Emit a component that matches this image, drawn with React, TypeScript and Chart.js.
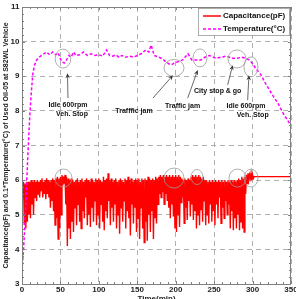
import React, { useEffect, useRef } from "react";
import { Chart, registerables } from "chart.js";

Chart.register(...registerables);

// Capacitance (pF) sampled every minute from t = 0 to t = 304
const capacitance = [
  5.9, 5.5, 5.95, 4.7, 5.9, 4.6, 5.95, 4.8, 5.95, 5.0,
  5.95, 4.9, 6.0, 5.3, 5.95, 5.0, 6.0, 5.5, 5.95, 5.4,
  6.0, 5.6, 5.95, 5.5, 6.0, 5.7, 6.05, 5.5, 5.95, 5.6,
  6.0, 5.45, 6.05, 5.6, 6.0, 5.5, 5.95, 5.2, 6.0, 5.4,
  6.05, 5.1, 6.0, 4.7, 6.05, 4.9, 6.1, 4.3, 6.05, 4.6,
  6.1, 5.0, 6.15, 5.85, 6.1, 5.9, 6.15, 5.3, 6.1, 4.1,
  6.05, 4.6, 6.0, 4.3, 6.05, 4.8, 6.0, 4.5, 5.95, 5.2,
  6.0, 4.7, 6.05, 5.3, 5.95, 4.8, 6.0, 4.6, 6.05, 5.1,
  5.95, 4.9, 6.0, 5.5, 6.05, 4.7, 6.0, 5.0, 5.95, 4.65,
  6.05, 5.2, 6.0, 4.8, 5.95, 5.4, 6.05, 4.7, 6.0, 5.0,
  6.05, 4.6, 6.0, 5.3, 5.95, 4.8, 6.1, 4.55, 6.0, 5.1,
  6.05, 4.9, 6.2, 5.4, 6.0, 4.7, 6.05, 5.2, 5.95, 4.8,
  6.0, 5.3, 6.05, 4.6, 5.95, 5.0, 6.0, 4.45, 6.05, 5.2,
  6.0, 4.8, 5.95, 5.4, 6.05, 4.6, 6.0, 5.1, 6.1, 4.9,
  6.0, 4.4, 6.05, 5.3, 5.95, 4.75, 6.0, 5.2, 6.05, 4.5,
  6.0, 4.9, 6.05, 4.3, 5.95, 5.2, 6.05, 4.6, 6.0, 4.2,
  6.05, 4.8, 6.0, 4.25, 6.1, 5.0, 6.05, 4.5, 6.0, 5.1,
  6.05, 4.3, 6.0, 4.9, 6.1, 4.75, 6.05, 5.3, 6.1, 5.6,
  6.15, 5.5, 6.1, 5.65, 6.15, 5.3, 6.1, 5.6, 6.15, 5.4,
  6.1, 5.2, 6.15, 4.9, 6.1, 5.3, 6.15, 4.95, 6.1, 4.6,
  6.15, 4.5, 6.1, 5.0, 6.15, 4.65, 6.1, 5.35, 6.05, 5.5,
  6.0, 4.75, 6.05, 5.2, 6.0, 4.85, 6.05, 5.4, 6.0, 4.95,
  6.1, 5.3, 6.15, 4.85, 6.1, 5.1, 6.15, 4.6, 6.1, 5.0,
  6.15, 4.7, 6.1, 5.15, 6.05, 4.8, 6.1, 5.4, 6.0, 4.7,
  6.0, 5.0, 5.95, 4.75, 6.0, 5.3, 5.95, 4.8, 6.0, 5.1,
  5.95, 4.7, 6.0, 5.3, 5.95, 4.9, 6.0, 5.5, 5.95, 4.75,
  6.0, 5.2, 5.95, 4.9, 6.0, 5.4, 5.95, 5.0, 6.0, 5.3,
  5.95, 4.6, 6.0, 5.1, 5.95, 4.55, 6.0, 4.9, 5.95, 4.6,
  6.0, 5.0, 6.05, 4.55, 6.0, 4.8, 6.1, 4.6, 6.05, 4.5,
  6.1, 5.6, 6.15, 5.9, 6.2, 6.0, 6.15, 6.05, 6.2, 6.0,
  6.15, 6.05, 6.1, 6.1, 6.1,
];
// Flat capacitance after the vehicle stop
const capTailTime = [305, 350];
const capTailValue = [6.1, 6.1];

// 0.1 * Temperature (°C)
const tempTime = [
  0, 2, 4, 6, 8, 10, 12, 14, 16, 19, 22, 26, 32, 36, 40, 44, 47, 50, 52, 55,
  58, 61, 64, 67, 70, 75, 80, 85, 90, 95, 100, 105, 110, 114, 118, 122, 126, 130, 135, 140,
  145, 150, 155, 161, 165, 168, 172, 178, 183, 187, 191, 194, 198, 203, 209, 214, 216, 219, 221, 227,
  233, 238, 244, 249, 253, 259, 265, 270, 274, 280, 286, 291, 295, 298, 301, 304, 308, 311, 316, 322,
  327, 333, 337, 341, 345, 348, 350,
];
const tempValue = [
  3.4, 4.0, 4.8, 5.9, 6.9, 7.8, 8.5, 9.05, 9.3, 9.47, 9.55, 9.61, 9.7, 9.62, 9.7, 9.62, 9.68, 9.5, 9.42, 9.38,
  9.47, 9.6, 9.55, 9.7, 9.6, 9.62, 9.7, 9.6, 9.65, 9.6, 9.62, 9.58, 9.76, 9.6, 9.58, 9.62, 9.55, 9.6, 9.55, 9.58,
  9.55, 9.6, 9.65, 9.76, 9.7, 9.9, 9.6, 9.55, 9.5, 9.42, 9.36, 9.33, 9.38, 9.42, 9.47, 9.6, 9.65, 9.55, 9.47, 9.47,
  9.47, 9.55, 9.6, 9.55, 9.52, 9.55, 9.58, 9.55, 9.52, 9.52, 9.55, 9.52, 9.48, 9.42, 9.33, 9.23, 9.12, 9.04, 8.82, 8.6,
  8.42, 8.22, 8.05, 7.88, 7.75, 7.64, 7.58,
];

// Annotation positions (data coordinates)
const ellipseTime = [53.3, 197.8, 231.6, 279.7, 297.9, 54, 197.8, 227.7, 280.4, 298];
const ellipseValue = [9.51, 9.24, 9.53, 9.5, 9.27, 6.06, 6.06, 6.09, 6.06, 6.06];
const arrowFromTime = [59.8, 170.4, 215.6, 267.6, 293.6];
const arrowFromValue = [8.37, 8.37, 8.37, 8.75, 8.31];
const arrowToTime = [59.2, 196.5, 228.6, 274.1, 295.3];
const arrowToValue = [9.09, 9.03, 9.18, 9.32, 9.03];
const noteText = ["Idle 600rpm", "Veh. Stop", "Trafffic jam", "Traffic jam", "City stop & go", "Idle 600rpm", "Veh. Stop"];
const noteTime = [59.8, 65, 145.7, 209, 254.6, 291.4, 300.2];
const noteValue = [8.17, 7.92, 7.99, 8.14, 8.58, 8.14, 7.88];

const seriesNames = ["Capacitance(pF)", "Temperature(°C)"];
const yTitle = "Capacitance(pF) and 0.1*Temperature(°C) of Used Oil-05 at S82WL Vehicle";
const xTitle = "Time(min)";

const FONT = "'Liberation Sans', Arial, sans-serif";
const RED = "#ff0000";
const MAGENTA = "#ff00ff";
// ellipse radii (px)
const ellipseRx = [7.8, 10, 7, 9, 7, 8.5, 10, 6, 8.5, 7];
const ellipseRy = [9.5, 8.5, 9, 9, 10, 9, 10, 7.5, 9, 9];

const decorPlugin = {
  id: "decor",
  afterDatasetsDraw(chart: any) {
    const { ctx, scales } = chart;
    const x = scales.x;
    const y = scales.y;
    ctx.save();
    // ellipses
    ctx.strokeStyle = "#9a9a9a";
    ctx.lineWidth = 0.8;
    ellipseTime.forEach((t, i) => {
      ctx.beginPath();
      ctx.ellipse(x.getPixelForValue(t), y.getPixelForValue(ellipseValue[i]), ellipseRx[i], ellipseRy[i], 0, 0, Math.PI * 2);
      ctx.stroke();
    });
    // arrows
    ctx.strokeStyle = "#444";
    ctx.fillStyle = "#333";
    ctx.lineWidth = 0.8;
    arrowFromTime.forEach((t, i) => {
      const x1 = x.getPixelForValue(t);
      const y1 = y.getPixelForValue(arrowFromValue[i]);
      const x2 = x.getPixelForValue(arrowToTime[i]);
      const y2 = y.getPixelForValue(arrowToValue[i]);
      const a = Math.atan2(y2 - y1, x2 - x1);
      const hl = 5;
      const hw = 2.2;
      ctx.beginPath();
      ctx.moveTo(x1, y1);
      ctx.lineTo(x2 - Math.cos(a) * hl * 0.8, y2 - Math.sin(a) * hl * 0.8);
      ctx.stroke();
      ctx.beginPath();
      ctx.moveTo(x2, y2);
      ctx.lineTo(x2 - Math.cos(a) * hl - Math.sin(a) * hw, y2 - Math.sin(a) * hl + Math.cos(a) * hw);
      ctx.lineTo(x2 - Math.cos(a) * hl * 0.7, y2 - Math.sin(a) * hl * 0.7);
      ctx.lineTo(x2 - Math.cos(a) * hl + Math.sin(a) * hw, y2 - Math.sin(a) * hl - Math.cos(a) * hw);
      ctx.closePath();
      ctx.fill();
    });
    // notes
    ctx.fillStyle = "#111";
    ctx.font = `bold 7px ${FONT}`;
    ctx.textAlign = "center";
    ctx.textBaseline = "middle";
    noteText.forEach((s, i) => {
      ctx.fillText(s, x.getPixelForValue(noteTime[i]), y.getPixelForValue(noteValue[i]));
    });
    ctx.restore();
  },
  afterDraw(chart: any) {
    const { ctx, chartArea: ca, scales } = chart;
    const x = scales.x;
    const y = scales.y;
    ctx.save();
    // frame
    ctx.strokeStyle = "#808080";
    ctx.lineWidth = 1;
    ctx.strokeRect(Math.round(ca.left) + 0.5, Math.round(ca.top) + 0.5, Math.round(ca.right - ca.left) - 1, Math.round(ca.bottom - ca.top));
    // ticks
    ctx.strokeStyle = "#808080";
    ctx.beginPath();
    for (let v = x.min; v <= x.max + 1e-6; v += 10) {
      const px = Math.round(x.getPixelForValue(v)) + 0.5;
      const len = Math.abs(v % 50) < 1e-6 ? 3 : 2;
      ctx.moveTo(px, ca.bottom);
      ctx.lineTo(px, ca.bottom - len);
      ctx.moveTo(px, ca.top);
      ctx.lineTo(px, ca.top + len);
    }
    for (let k = 0; k <= (y.max - y.min) * 5 + 1e-6; k++) {
      const v = y.min + k * 0.2;
      const py = Math.round(y.getPixelForValue(v)) + 0.5;
      const len = k % 5 === 0 ? 3 : 2;
      ctx.moveTo(ca.left, py);
      ctx.lineTo(ca.left + len, py);
      ctx.moveTo(ca.right, py);
      ctx.lineTo(ca.right - len, py);
    }
    ctx.stroke();
    // legend
    const bw = 91;
    const bh = 27;
    const bx = ca.right - bw - 2;
    const by = ca.top + 1;
    ctx.fillStyle = "#ffffff";
    ctx.fillRect(bx, by, bw, bh);
    ctx.strokeStyle = "#9a9a9a";
    ctx.lineWidth = 0.8;
    ctx.strokeRect(bx + 0.5, by + 0.5, bw, bh);
    const rows = [by + 8, by + 21];
    const colors = [RED, MAGENTA];
    const dashes = [[], [3, 2]];
    rows.forEach((ry, i) => {
      ctx.strokeStyle = colors[i];
      ctx.lineWidth = 1.5;
      ctx.setLineDash(dashes[i]);
      ctx.beginPath();
      ctx.moveTo(bx + 5, ry);
      ctx.lineTo(bx + 23, ry);
      ctx.stroke();
      ctx.setLineDash([]);
      ctx.fillStyle = "#111";
      ctx.font = `bold 8px ${FONT}`;
      ctx.textAlign = "left";
      ctx.textBaseline = "middle";
      ctx.fillText(seriesNames[i], bx + 25, ry);
    });
    ctx.restore();
  },
};

export default function App() {
  const ref = useRef<HTMLCanvasElement | null>(null);
  useEffect(() => {
    if (!ref.current) return;
    const capData = capacitance.map((v, i) => ({ x: i, y: v })).concat(
      capTailTime.map((t, i) => ({ x: t, y: capTailValue[i] }))
    );
    const tempData = tempTime.map((t, i) => ({ x: t, y: tempValue[i] }));
    const tickFont = { family: FONT, size: 8, weight: "bold" as const };
    const chart = new Chart(ref.current, {
      type: "line",
      data: {
        datasets: [
          {
            label: seriesNames[1],
            data: tempData,
            borderColor: MAGENTA,
            borderWidth: 1.5,
            borderDash: [3, 2],
            pointRadius: 0,
            tension: 0,
            order: 0,
          },
          {
            label: seriesNames[0],
            data: capData,
            borderColor: RED,
            borderWidth: 1.4,
            pointRadius: 0,
            tension: 0,
            order: 1,
          },
        ],
      },
      options: {
        animation: false,
        responsive: false,
        events: [],
        layout: { padding: { top: 7, right: 5, left: 0, bottom: 0 } },
        plugins: { legend: { display: false }, tooltip: { enabled: false } },
        scales: {
          x: {
            type: "linear",
            min: 0,
            max: 350,
            ticks: { stepSize: 50, font: tickFont, color: "#222", padding: 1, maxRotation: 0, autoSkip: false },
            grid: { color: "#b0b0b0", drawTicks: false, lineWidth: 1 },
            border: { display: false, dash: [5, 4] },
            title: { display: true, text: xTitle, font: tickFont, color: "#222", padding: { top: 0, bottom: 2 } },
            afterFit(s: any) {
              s.height = 22;
              s.paddingLeft = 0;
              s.paddingRight = 0;
            },
          },
          y: {
            type: "linear",
            min: 3,
            max: 11,
            ticks: { stepSize: 1, font: tickFont, color: "#222", padding: 2.5 },
            grid: { color: "#b0b0b0", drawTicks: false, lineWidth: 1 },
            border: { display: false, dash: [5, 4] },
            title: {
              display: true,
              text: yTitle,
              font: { family: FONT, size: 7, weight: "bold" },
              color: "#222",
              padding: { top: 1.6, bottom: 0 },
            },
            afterFit(s: any) {
              s.width = 22;
              s.paddingTop = 0;
              s.paddingBottom = 0;
            },
          },
        },
      },
      plugins: [decorPlugin],
    });
    return () => chart.destroy();
  }, []);
  return (
    <div style={{ position: "fixed", left: 0, top: 0, width: 296, height: 299, overflow: "hidden", background: "#fff" }}>
      <canvas ref={ref} width={296} height={306} style={{ display: "block", width: 296, height: 306 }} />
    </div>
  );
}
